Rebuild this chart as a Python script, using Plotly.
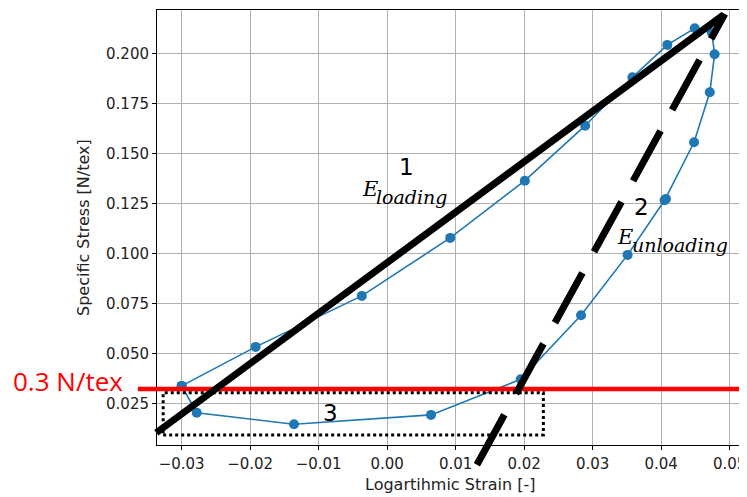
import plotly.graph_objects as go

# ---- data ----
strain = [-0.0300, -0.0192, -0.0037, 0.0092, 0.0201, 0.0289, 0.0358, 0.0409, 0.0449,
          0.0474, 0.0478, 0.0471, 0.0448, 0.0407, 0.0405, 0.0351, 0.0283, 0.0195,
          0.0064, -0.0136, -0.0278, -0.0300]
stress = [0.0337, 0.0532, 0.0787, 0.1077, 0.1363, 0.1638, 0.1880, 0.2042, 0.2125,
          0.2103, 0.1995, 0.1805, 0.1555, 0.1272, 0.1265, 0.0992, 0.0690, 0.0370,
          0.0192, 0.0145, 0.0203, 0.0337]

loading_x = [-0.0337, 0.0491]
loading_y = [0.0103, 0.2192]
unloading_x = [0.0131, 0.0493]
unloading_y = [-0.0057, 0.2197]
threshold_y = 0.0322
threshold_x = [-0.0364, 0.0530]
box_x = [-0.0327, 0.0228]
box_y = [0.0092, 0.0303]

x_ticks = [-0.03, -0.02, -0.01, 0.00, 0.01, 0.02, 0.03, 0.04, 0.05]
x_ticktext = ["\u22120.03", "\u22120.02", "\u22120.01", "0.00", "0.01", "0.02", "0.03", "0.04", "0.05"]
y_ticks = [0.025, 0.050, 0.075, 0.100, 0.125, 0.150, 0.175, 0.200]
y_ticktext = ["0.025", "0.050", "0.075", "0.100", "0.125", "0.150", "0.175", "0.200"]

x_range = [-0.0336, 0.0518]
y_range = [0.00415, 0.22165]

# ---- layout geometry (pixels, figure coordinates; page body has an 8px margin) ----
OFF = 8
W, H = 747, 497
L, R, T, B = 157 - OFF, 742 - OFF, 10 - OFF, 445 - OFF
kx = (R - L) / (x_range[1] - x_range[0])
ky = (B - T) / (y_range[1] - y_range[0])
x2_range = [x_range[0] - L / kx, x_range[1] + (W - R) / kx]
y2_range = [y_range[0] - (H - B) / ky, y_range[1] + T / ky]

C0 = "#1f77b4"
fig = go.Figure()

fig.add_trace(go.Scatter(x=strain, y=stress, mode="lines+markers",
                         line=dict(color=C0, width=1.6),
                         marker=dict(color=C0, size=10),
                         xaxis="x", yaxis="y", showlegend=False))

# overlay (unclipped) drawing layer
fig.add_trace(go.Scatter(x=threshold_x, y=[threshold_y, threshold_y], mode="lines",
                         line=dict(color="#ff0000", width=4.5),
                         xaxis="x2", yaxis="y2", showlegend=False))
fig.add_trace(go.Scatter(x=[box_x[0], box_x[1], box_x[1], box_x[0], box_x[0]],
                         y=[box_y[0], box_y[0], box_y[1], box_y[1], box_y[0]],
                         mode="lines", line=dict(color="black", width=3, dash="dot"),
                         xaxis="x2", yaxis="y2", showlegend=False))
fig.add_trace(go.Scatter(x=loading_x, y=loading_y, mode="lines",
                         line=dict(color="black", width=7),
                         xaxis="x2", yaxis="y2", showlegend=False))
fig.add_trace(go.Scatter(x=unloading_x, y=unloading_y, mode="lines",
                         line=dict(color="black", width=7, dash="57px,24px"),
                         xaxis="x2", yaxis="y2", showlegend=False))

tickfont = dict(family="DejaVu Sans", size=15, color="#222222")
fig.update_layout(
    width=W, height=H,
    margin=dict(l=0, r=0, t=0, b=0),
    paper_bgcolor="white", plot_bgcolor="rgba(0,0,0,0)",
    xaxis=dict(domain=[L / W, R / W], range=x_range, tickvals=x_ticks, ticktext=x_ticktext,
               showgrid=True, gridcolor="#b0b0b0", gridwidth=1, zeroline=False,
               showline=True, linecolor="black", linewidth=1, mirror=True,
               ticks="outside", ticklen=4, tickcolor="black", tickfont=tickfont,
               ticklabelstandoff=1, anchor="y", automargin=False),
    yaxis=dict(domain=[(H - B) / H, (H - T) / H], range=y_range, tickvals=y_ticks, ticktext=y_ticktext,
               showgrid=True, gridcolor="#b0b0b0", gridwidth=1, zeroline=False,
               showline=True, linecolor="black", linewidth=1, mirror=True,
               ticks="outside", ticklen=4, tickcolor="black", tickfont=tickfont,
               anchor="x", automargin=False),
    xaxis2=dict(domain=[0, 1], range=x2_range, visible=False, anchor="y2"),
    yaxis2=dict(domain=[0, 1], range=y2_range, visible=False, anchor="x2"),
)

ann = []
ann.append(dict(text="Logartihmic Strain [-]", xref="paper", yref="paper",
                x=(L + R) / 2 / W, y=(H - (484 - OFF)) / H, xanchor="center", yanchor="middle",
                showarrow=False, font=dict(family="DejaVu Sans", size=16, color="#222222")))
ann.append(dict(text="Specific Stress [N/tex]", xref="paper", yref="paper",
                x=(83 - OFF) / W, y=(H - (228 - OFF)) / H, xanchor="center", yanchor="middle",
                showarrow=False, textangle=-90,
                font=dict(family="DejaVu Sans", size=16, color="#222222")))
sans = dict(family="DejaVu Sans", size=23, color="black")
big_e = dict(family="DejaVu Serif", size=21, color="black")
sub_e = dict(family="DejaVu Serif", size=19, color="black")
ann.append(dict(text="1", x=0.0028, y=0.1431, xref="x2", yref="y2", showarrow=False, font=sans))
ann.append(dict(text="<i>E</i>", x=-0.0039, y=0.1322, xref="x2", yref="y2", xanchor="left",
                yanchor="middle", showarrow=False, font=big_e))
ann.append(dict(text="<i>loading</i>", x=-0.0019, y=0.1284, xref="x2", yref="y2", xanchor="left",
                yanchor="middle", showarrow=False, font=sub_e))
ann.append(dict(text="2", x=0.0371, y=0.1233, xref="x2", yref="y2", showarrow=False, font=sans))
ann.append(dict(text="<i>E</i>", x=0.0333, y=0.1082, xref="x2", yref="y2", xanchor="left",
                yanchor="middle", showarrow=False, font=big_e))
ann.append(dict(text="<i>unloading</i>", x=0.0354, y=0.1041, xref="x2", yref="y2", xanchor="left",
                yanchor="middle", showarrow=False, font=sub_e))
ann.append(dict(text="3", x=-0.0082, y=0.0202, xref="x2", yref="y2", showarrow=False, font=sans))
ann.append(dict(text="0.3 N/tex", x=-0.0466, y=0.0364, xref="x2", yref="y2", showarrow=False,
                xanchor="center", yanchor="middle",
                font=dict(family="Open Sans", size=26, color="#ff0000")))
fig.update_layout(annotations=ann)

fig.write_html("out.html")
